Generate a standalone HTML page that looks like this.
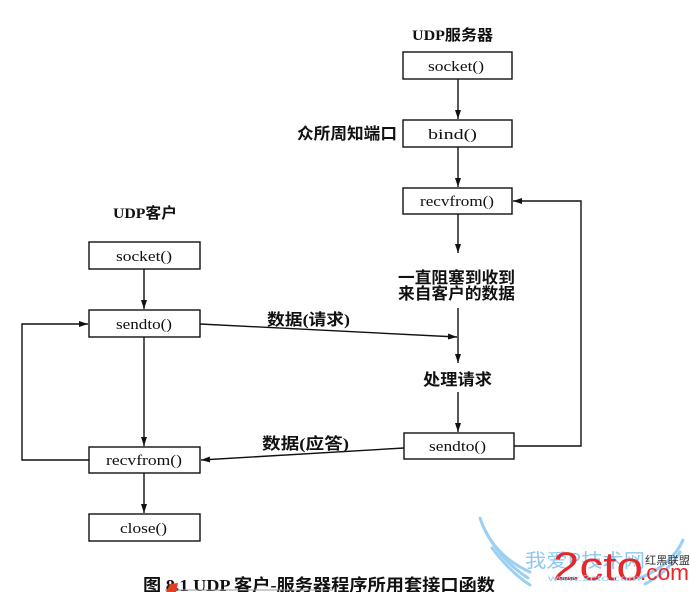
<!DOCTYPE html>
<html><head><meta charset="utf-8">
<style>
html,body{margin:0;padding:0;background:#fff;}
svg{display:block;}
.fn{font-family:"Liberation Serif","Noto Serif CJK SC",serif;font-size:15px;fill:#111;}
.cj{font-family:"Liberation Serif","Noto Sans CJK SC",sans-serif;font-size:16px;fill:#111;font-weight:bold;}
.tt{font-family:"Liberation Serif","Noto Sans CJK SC",sans-serif;font-size:15px;fill:#111;font-weight:bold;}
</style></head>
<body>
<svg width="691" height="592" viewBox="0 0 691 592" xmlns="http://www.w3.org/2000/svg">
<defs>
<marker id="ah" markerWidth="10" markerHeight="8" refX="9" refY="3.5" orient="auto" markerUnits="userSpaceOnUse">
<path d="M0,0.5 L9,3.5 L0,6.5 Z" fill="#111"/>
</marker>
</defs>
<g stroke="#111" stroke-width="1.4" fill="none">
<!-- server boxes -->
<rect x="403" y="52" width="109" height="27"/>
<rect x="403" y="120" width="109" height="27"/>
<rect x="403" y="188" width="109" height="26"/>
<rect x="404" y="433" width="110" height="26"/>
<!-- client boxes -->
<rect x="89" y="242" width="111" height="27"/>
<rect x="89" y="310" width="111" height="27"/>
<rect x="89" y="447" width="111" height="26"/>
<rect x="89" y="514" width="111" height="27"/>
<!-- server arrows -->
<line x1="458" y1="79" x2="458" y2="119" marker-end="url(#ah)"/>
<line x1="458" y1="147" x2="458" y2="187" marker-end="url(#ah)"/>
<line x1="458" y1="214" x2="458" y2="253" marker-end="url(#ah)"/>
<line x1="458" y1="308" x2="458" y2="363" marker-end="url(#ah)"/>
<line x1="458" y1="392" x2="458" y2="432" marker-end="url(#ah)"/>
<polyline points="514,446 581,446 581,201 513,201" marker-end="url(#ah)"/>
<!-- client arrows -->
<line x1="144" y1="269" x2="144" y2="309" marker-end="url(#ah)"/>
<line x1="144" y1="337" x2="144" y2="446" marker-end="url(#ah)"/>
<line x1="144" y1="473" x2="144" y2="513" marker-end="url(#ah)"/>
<polyline points="89,460 22,460 22,324 88,324" marker-end="url(#ah)"/>
<!-- cross arrows -->
<line x1="200" y1="324" x2="457" y2="337" marker-end="url(#ah)"/>
<line x1="404" y1="448" x2="201" y2="460" marker-end="url(#ah)"/>
</g>
<!-- titles -->
<text class="tt" x="412" y="40" textLength="81" lengthAdjust="spacingAndGlyphs">UDP服务器</text>
<text class="tt" x="113" y="218" textLength="64" lengthAdjust="spacingAndGlyphs">UDP客户</text>
<!-- function labels -->
<text class="fn" x="428" y="71" textLength="56" lengthAdjust="spacingAndGlyphs">socket()</text>
<text class="fn" x="428" y="139" textLength="49" lengthAdjust="spacingAndGlyphs">bind()</text>
<text class="fn" x="420" y="206" textLength="74" lengthAdjust="spacingAndGlyphs">recvfrom()</text>
<text class="fn" x="429" y="451" textLength="57" lengthAdjust="spacingAndGlyphs">sendto()</text>
<text class="fn" x="116" y="261" textLength="56" lengthAdjust="spacingAndGlyphs">socket()</text>
<text class="fn" x="116" y="329" textLength="56" lengthAdjust="spacingAndGlyphs">sendto()</text>
<text class="fn" x="106" y="465" textLength="76" lengthAdjust="spacingAndGlyphs">recvfrom()</text>
<text class="fn" x="120" y="533" textLength="47" lengthAdjust="spacingAndGlyphs">close()</text>
<!-- chinese labels -->
<text class="cj" x="297" y="139" textLength="100" lengthAdjust="spacingAndGlyphs">众所周知端口</text>
<text class="cj" x="398" y="283" textLength="117" lengthAdjust="spacingAndGlyphs">一直阻塞到收到</text>
<text class="cj" x="398" y="299" textLength="117" lengthAdjust="spacingAndGlyphs">来自客户的数据</text>
<text class="cj" x="423" y="385" textLength="69" lengthAdjust="spacingAndGlyphs">处理请求</text>
<text class="cj" x="267" y="325" textLength="83" lengthAdjust="spacingAndGlyphs">数据(请求)</text>
<text class="cj" x="262" y="449" textLength="87" lengthAdjust="spacingAndGlyphs">数据(应答)</text>
<!-- caption -->
<text x="143" y="591" textLength="352" lengthAdjust="spacingAndGlyphs" style="font-family:'Liberation Serif','Noto Sans CJK SC',sans-serif;font-size:17px;font-weight:bold;fill:#111;">图 8.1  UDP 客户-服务器程序所用套接口函数</text>
<!-- bottom small stuff -->
<line x1="165" y1="590" x2="333" y2="590" stroke="#999" stroke-width="1"/>
<path d="M166,592 L170,584 L178,583 L176,592 Z" fill="#e04020"/>
<!-- watermark -->
<g stroke="#9cd0f2" stroke-width="3" fill="none" stroke-linecap="round">
<path d="M480,518 Q492,555 530,572"/>
<path d="M485,530 Q500,560 528,578"/>
<path d="M492,548 Q510,572 530,585"/>
<path d="M683,540 Q672,565 640,578"/>
<path d="M680,552 Q668,572 645,584"/>
</g>
<text x="525" y="567" textLength="120" lengthAdjust="spacingAndGlyphs" style="font-family:'Noto Sans CJK SC',sans-serif;font-size:19px;fill:#8ec8f0;">我爱P技术网</text>
<text x="553" y="580" textLength="90" lengthAdjust="spacingAndGlyphs" style="font-family:'Liberation Sans',sans-serif;font-size:40px;fill:#e8262a;">2cto</text>
<text x="640" y="580" textLength="49" lengthAdjust="spacingAndGlyphs" style="font-family:'Liberation Sans',sans-serif;font-size:22px;fill:#e8262a;">.com</text>
<text x="645" y="564" textLength="45" lengthAdjust="spacingAndGlyphs" style="font-family:'Noto Sans CJK SC',sans-serif;font-size:11px;fill:#333;">红黑联盟</text>
<text x="548" y="581" textLength="92" lengthAdjust="spacingAndGlyphs" style="font-family:'Liberation Sans',sans-serif;font-size:8px;fill:#9cd0f2;">www.2cto.com</text>
</svg>
</body></html>
